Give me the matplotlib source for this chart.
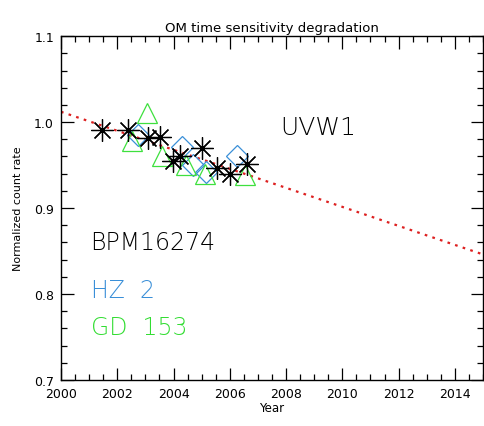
import numpy as np
import matplotlib.pyplot as plt
from matplotlib.ticker import MultipleLocator

# BPM16274 (black asterisks)
bpm_year = [2001.44, 2002.39, 2003.10, 2003.52, 2003.99, 2004.23, 2005.00, 2005.53, 2006.00, 2006.60]
bpm_rate = [0.991, 0.991, 0.981, 0.983, 0.955, 0.960, 0.970, 0.947, 0.940, 0.951]

# HZ 2 (blue diamonds)
hz_year = [2002.75, 2004.29, 2004.70, 2005.17, 2006.24]
hz_rate = [0.985, 0.971, 0.950, 0.942, 0.960]

# GD 153 (green triangles)
gd_year = [2002.54, 2003.07, 2003.58, 2004.46, 2005.12, 2006.54]
gd_rate = [0.978, 1.010, 0.960, 0.950, 0.940, 0.938]

# linear trend (red dotted)
fit_year = [2000, 2015]
fit_rate = [1.012, 0.846]

fig = plt.figure(figsize=(4.84, 4.27), dpi=100)
ax = fig.add_axes([0.126, 0.108, 0.872, 0.805])

ax.plot(fit_year, fit_rate, color='#dd2020', lw=1.6, ls=(0, (1.2, 2.4)), zorder=1)
ax.plot(hz_year, hz_rate, ls='none', marker='D', ms=11, mfc='none', mec='#3a8fd8', mew=0.9, zorder=2)
ax.plot(gd_year, gd_rate, ls='none', marker='^', ms=15, mfc='none', mec='#3ee03e', mew=0.9, zorder=3)
ax.plot(bpm_year, bpm_rate, ls='none', marker=(8, 2, 0), ms=16, mec='black', mew=0.9, zorder=4)

ax.set_xlim(2000, 2015)
ax.set_ylim(0.7, 1.1)
ax.xaxis.set_major_locator(MultipleLocator(2))
ax.xaxis.set_minor_locator(MultipleLocator(0.5))
ax.yaxis.set_major_locator(MultipleLocator(0.1))
ax.yaxis.set_minor_locator(MultipleLocator(0.02))
ax.tick_params(which='both', direction='in', top=True, right=True, labelsize=9, width=0.9)
ax.tick_params(which='major', length=9)
ax.tick_params(which='minor', length=4)
ax.tick_params(axis='x', pad=5)
ax.tick_params(axis='y', pad=5)
ax.set_xticks([2000, 2002, 2004, 2006, 2008, 2010, 2012, 2014])
ax.set_yticks([0.7, 0.8, 0.9, 1.0, 1.1])
ax.set_yticklabels(['0.7', '0.8', '0.9', '1.0', '1.1'])
for s in ax.spines.values():
    s.set_linewidth(1.0)

ax.set_title('OM time sensitivity degradation', fontsize=9.5, pad=4)
ax.set_xlabel('Year', fontsize=8.5, labelpad=1)
ax.set_ylabel('Normalized count rate', fontsize=8, labelpad=8)

ax.text(2007.8, 0.994, 'UVW1', fontsize=18, va='center', ha='left', color='black', fontweight='light')
ax.text(2001.05, 0.860, 'BPM16274', fontsize=17, va='center', ha='left', color='black', fontweight='light')
ax.text(2001.05, 0.805, 'HZ  2', fontsize=17, va='center', ha='left', color='#3a8fd8', fontweight='light')
ax.text(2001.05, 0.762, 'GD  153', fontsize=17, va='center', ha='left', color='#33dd33', fontweight='light')

fig.savefig('out.png', dpi=100)
